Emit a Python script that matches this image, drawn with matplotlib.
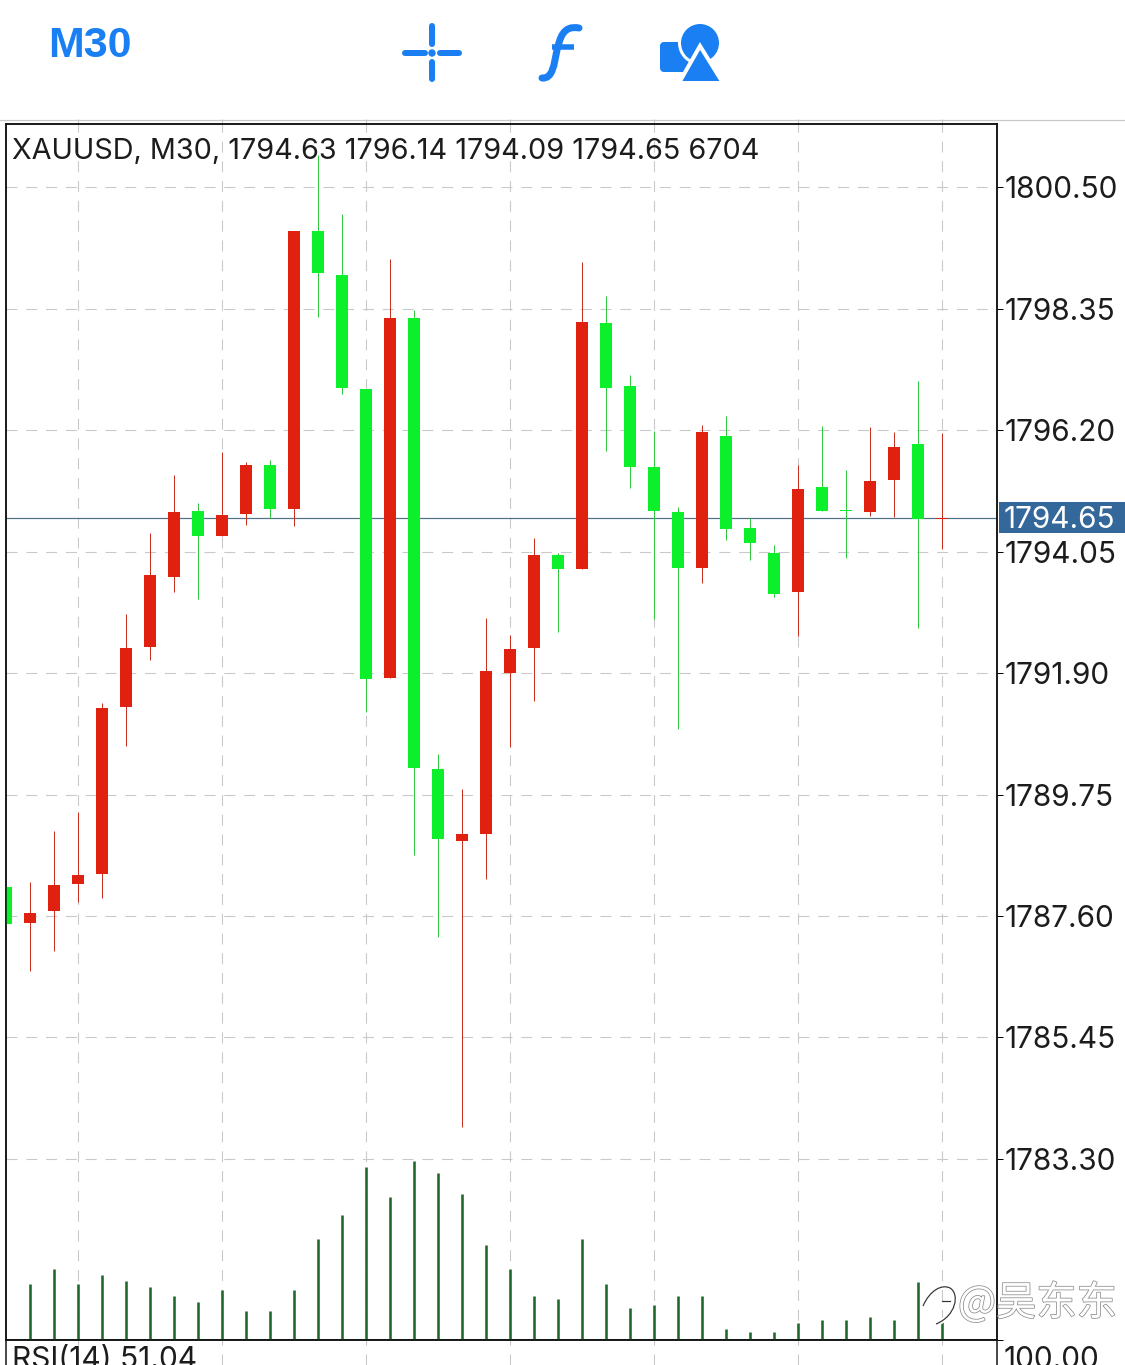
import numpy as np
import matplotlib
matplotlib.use("Agg")
import matplotlib.pyplot as plt
import matplotlib.patheffects as pe
from matplotlib.patches import Circle, FancyBboxPatch, PathPatch, Polygon, Rectangle
from matplotlib.path import Path

plt.rcParams['font.family'] = ['Inter', 'Liberation Sans', 'DejaVu Sans']

# OHLC
opens = [1788.11, 1787.48, 1787.69, 1788.17, 1788.34, 1791.30, 1792.36, 1793.60, 1794.77, 1794.32,
         1794.71, 1795.58, 1794.80, 1799.72, 1798.94, 1796.93, 1791.81, 1798.18, 1790.20, 1788.93,
         1789.05, 1791.90, 1792.34, 1793.99, 1793.74, 1798.09, 1796.98, 1795.55, 1794.75, 1793.76,
         1796.09, 1794.47, 1794.02, 1793.33, 1795.19, 1794.78, 1794.75, 1795.32, 1795.95, 1794.63]
highs = [1788.11, 1788.20, 1789.10, 1789.44, 1791.37, 1792.94, 1794.38, 1795.40, 1794.91, 1795.81,
         1795.63, 1795.67, 1799.72, 1801.07, 1800.02, 1796.93, 1799.23, 1798.32, 1790.47, 1789.85,
         1792.87, 1792.57, 1794.29, 1794.02, 1799.17, 1798.57, 1797.17, 1796.18, 1794.84, 1796.29,
         1796.45, 1794.64, 1794.17, 1795.58, 1796.27, 1795.49, 1796.25, 1796.16, 1797.07, 1796.14]
lows = [1787.46, 1786.63, 1786.98, 1787.85, 1787.92, 1790.61, 1792.13, 1793.33, 1793.21, 1794.32,
        1794.52, 1794.64, 1794.50, 1798.20, 1796.84, 1791.21, 1791.81, 1788.68, 1787.23, 1783.87,
        1788.25, 1790.59, 1791.40, 1792.63, 1793.74, 1795.83, 1795.17, 1792.86, 1790.91, 1793.49,
        1794.25, 1793.90, 1793.25, 1792.55, 1794.77, 1793.94, 1794.68, 1794.66, 1792.70, 1794.09]
closes = [1787.46, 1787.65, 1788.15, 1788.33, 1791.28, 1792.34, 1793.63, 1794.75, 1794.32, 1794.70,
          1795.58, 1794.80, 1799.72, 1798.98, 1796.94, 1791.79, 1798.18, 1790.22, 1788.96, 1789.05,
          1791.94, 1792.32, 1793.99, 1793.74, 1798.11, 1796.94, 1795.55, 1794.77, 1793.76, 1796.16,
          1794.45, 1794.20, 1793.30, 1795.16, 1794.77, 1794.76, 1795.30, 1795.90, 1794.63, 1794.65]
# tick volume, scaled units
volumes = [0, 56, 71, 56, 65, 59, 53, 44, 38, 50, 29, 29, 50, 101, 125, 173, 143, 179, 167, 146,
           95, 71, 44, 41, 101, 56, 32, 35, 44, 44, 11, 8, 8, 17, 20, 20, 23, 20, 58, 20]

price_ticks = [1800.50, 1798.35, 1796.20, 1794.05, 1791.90, 1789.75, 1787.60, 1785.45, 1783.30]
grid_bars = [3, 9, 15, 21, 27, 33, 39]
header = "XAUUSD, M30, 1794.63 1796.14 1794.09 1794.65 6704"
rsi_label = "RSI(14) 51.04"

W, H = 1125, 1365
BLUE = '#1a7ff2'
RED = '#e0210f'
GREEN = '#0cf02b'
GRID = '#c9c9c9'
TICK_SIZE = 21.4

# pixel box -> figure fractions
def px_axes(left, top, right, bottom):
    return [left / W, 1 - bottom / H, (right - left) / W, (bottom - top) / H]

fig = plt.figure(figsize=(W / 100, H / 100), dpi=100, facecolor='white')
ax = fig.add_axes(px_axes(6, 124, 997, 1340))
ax_rsi = fig.add_axes(px_axes(6, 1340, 997, 1365))
ax_vol = ax.twinx()

x = np.arange(len(opens))
o = np.array(opens)
c = np.array(closes)
up = c >= o
px = 0.72  # one pixel in points
dash = (0, (10, 8))

ax.set_xlim(0, 991 / 24)
ax.set_ylim(1780.097, 1801.615)
ax.set_xticks(grid_bars)
ax.set_xticklabels([])
ax.set_yticks(price_ticks)
ax.set_yticklabels([f"{p:.2f}" for p in price_ticks])
ax.yaxis.tick_right()
ax.tick_params(axis='x', length=0)
ax.tick_params(axis='y', length=6 / 1.39, width=px, pad=1, labelsize=TICK_SIZE, labelcolor='#1c1c1c')
ax.grid(True, color=GRID, lw=1.1 * px, ls=dash)
ax.set_axisbelow(True)

# grid stubs poke out above the frame
ax.vlines(grid_bars, 1801.615, 1801.70, color=GRID, lw=1.1 * px, clip_on=False)

# wicks then bodies
ax.axhline(closes[-1], color='#4f7288', lw=1.2 * px, zorder=2.5)
ax.vlines(x[up], np.array(lows)[up], np.array(highs)[up], color='#c8301f', lw=px, zorder=3)
ax.vlines(x[~up], np.array(lows)[~up], np.array(highs)[~up], color='#2fc93f', lw=px, zorder=3)
ax.bar(x[up], (c - o)[up], bottom=o[up], width=0.54, color=RED, zorder=4)
ax.bar(x[~up], (c - o)[~up], bottom=o[~up], width=0.54, color=GREEN, zorder=4)

# last price tag
trans = ax.get_yaxis_transform()
ax.add_patch(Rectangle((1.002, closes[-1] - 0.274), 0.127, 0.549, transform=trans,
                       facecolor='#34689b', edgecolor='none', clip_on=False, zorder=6))
ax.text(1.0068, closes[-1] - 0.045, f"{closes[-1]:.2f}", transform=trans, color='white',
        fontsize=TICK_SIZE, va='center', ha='left', zorder=7)
ax.text(0.006, 0.9772, header, transform=ax.transAxes, fontsize=20.75, color='#1c1c1c', va='center', zorder=8)

# volume bars
ax_vol.set_ylim(0, 1216)
ax_vol.set_yticks([])
ax_vol.vlines(x, 0, volumes, color='#1f6a2a', lw=2.6 * px)
ax_vol.set_xlim(ax.get_xlim())
ax_vol.patch.set_visible(False)

# RSI panel, only its top edge is in frame
ax_rsi.set_xlim(ax.get_xlim())
ax_rsi.set_ylim(0, 100)
ax_rsi.set_xticks(grid_bars)
ax_rsi.set_xticklabels([])
ax_rsi.set_yticks([100])
ax_rsi.set_yticklabels([])
ax_rsi.yaxis.tick_right()
ax_rsi.tick_params(axis='x', length=0)
ax_rsi.tick_params(axis='y', length=6 / 1.39, width=px)
ax_rsi.grid(True, axis='x', color=GRID, lw=1.1 * px, ls=dash)
ax_rsi.spines['bottom'].set_visible(False)
ax_rsi.text(0.006, 0.74, rsi_label, fontsize=21.5, color='#1c1c1c', va='top',
            transform=ax_rsi.transAxes, clip_on=False)
ax_rsi.text(1.0068, 0.74, "100.00", fontsize=TICK_SIZE, color='#1c1c1c', va='top', ha='left',
            transform=ax_rsi.transAxes, clip_on=False)

for a in (ax, ax_rsi, ax_vol):
    for s in a.spines.values():
        s.set_linewidth(1.5 * px)
        s.set_color('#111111')

# toolbar drawn in pixel coordinates on top of everything
ui = fig.add_axes([0, 0, 1, 1], zorder=10)
ui.set_xlim(0, W)
ui.set_ylim(H, 0)
ui.axis('off')
ui.patch.set_visible(False)

ui.plot([0, W], [119.5, 119.5], color='#c8c8c8', lw=1.2 * px)
ui.text(48, 46, "M30", color=BLUE, fontsize=31, fontweight='bold', va='center', ha='left',
        family=['Liberation Sans'])

# crosshair
for x0, y0, x1, y1 in [(405, 53, 425, 53), (440, 53, 459, 53), (432, 26, 432, 44), (432, 62, 432, 79)]:
    ui.plot([x0, x1], [y0, y1], color=BLUE, lw=6 * px, solid_capstyle='round')
ui.add_patch(Circle((432, 53), 3, color=BLUE))

# f icon
f_path = Path([(579, 28), (563, 25), (560, 38), (557, 50), (554, 64), (553, 79), (542, 78)],
              [Path.MOVETO, Path.CURVE4, Path.CURVE4, Path.CURVE4, Path.CURVE4, Path.CURVE4, Path.CURVE4])
ui.add_patch(PathPatch(f_path, facecolor='none', edgecolor=BLUE, lw=7 * px, capstyle='round'))
ui.plot([552, 574], [47, 47], color=BLUE, lw=5.5 * px, solid_capstyle='butt')

# shapes icon
ui.add_patch(FancyBboxPatch((661, 43), 27, 28, boxstyle="round,pad=0,rounding_size=3",
                            facecolor=BLUE, edgecolor=BLUE, lw=2 * px))
ui.add_patch(Circle((700, 43), 20.5, facecolor=BLUE, edgecolor='white', lw=3 * px))
ui.add_patch(Polygon([(700, 46), (679, 83), (723, 83)], closed=True, facecolor=BLUE,
                     edgecolor='white', lw=4 * px, joinstyle='miter'))

# watermark
mark = ui.text(958, 1303, "@吴东东", fontsize=29, color='white', va='center', ha='left',
               family=['Noto Sans CJK SC', 'DejaVu Sans'])
mark.set_path_effects([pe.withStroke(linewidth=1.1, foreground='#8c8c8c')])
bird = Path([(923, 1306), (930, 1290), (942, 1284), (950, 1288), (960, 1294), (956, 1316), (936, 1324)],
            [Path.MOVETO, Path.CURVE4, Path.CURVE4, Path.CURVE4, Path.CURVE4, Path.CURVE4, Path.CURVE4])
ui.add_patch(PathPatch(bird, facecolor='none', edgecolor='white', lw=5 * px))
ui.add_patch(PathPatch(bird, facecolor='none', edgecolor='#333333', lw=1.2 * px))
ui.plot([942, 950], [1301, 1301], color='#333333', lw=1.2 * px)

fig.savefig("out.png", dpi=100, facecolor='white')
